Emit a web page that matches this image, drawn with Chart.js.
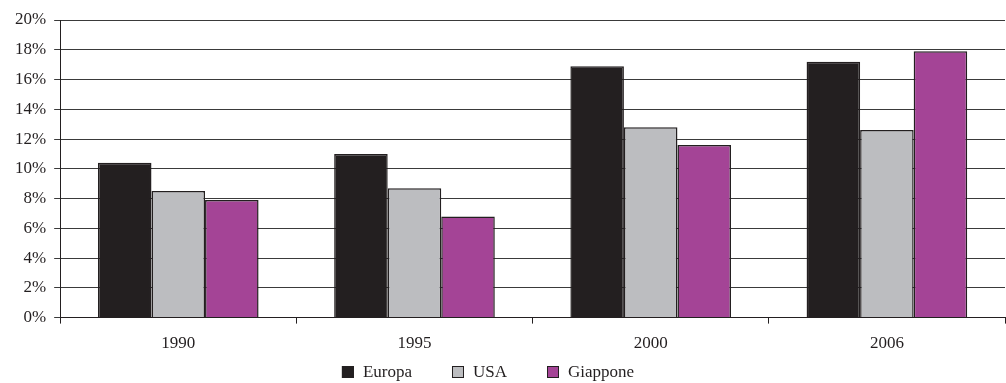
<!DOCTYPE html>
<html>
<head>
<meta charset="utf-8">
<script src="https://cdn.jsdelivr.net/npm/chart.js@4"></script>
<style>
  body { margin: 0; background: #fff; }
  #wrap { width: 1006px; height: 383px; }
</style>
</head>
<body>
<div id="wrap"><canvas id="barChart"></canvas></div>
<script>
const anni = ['1990', '1995', '2000', '2006'];
const europa = [10.4, 11.0, 16.9, 17.2];
const usa = [8.5, 8.7, 12.8, 12.6];
const giappone = [7.9, 6.8, 11.6, 17.9];
const yTicks = [0, 2, 4, 6, 8, 10, 12, 14, 16, 18, 20];

const serif = 'Liberation Serif, Times New Roman, serif';
const ink = '#231f20';

// legend drawn by hand so the items can sit wider apart than the built-in one allows
const bottomLegend = {
    id: 'bottomLegend',
    afterDraw: function (chart) {
        const ctx = chart.ctx;
        const box = 12, gapText = 9, gapItem = 40;
        const y = chart.height - 11;
        ctx.save();
        ctx.font = `17px ${serif}`;
        ctx.textBaseline = 'middle';
        const items = chart.data.datasets.map(ds => ({
            text: ds.label,
            fill: ds.backgroundColor,
            w: box + gapText + ctx.measureText(ds.label).width
        }));
        const total = items.reduce((s, it) => s + it.w, 0) + gapItem * (items.length - 1);
        let x = chart.width / 2 - 15 - total / 2;
        items.forEach(it => {
            ctx.fillStyle = it.fill;
            ctx.fillRect(x, y - box / 2, box, box);
            ctx.strokeStyle = ink;
            ctx.lineWidth = 1;
            ctx.strokeRect(x + 0.5, y - box / 2 + 0.5, box - 1, box - 1);
            ctx.fillStyle = ink;
            ctx.fillText(it.text, x + box + gapText, y + 1);
            x += it.w + gapItem;
        });
        ctx.restore();
    }
};

const ctx = document.getElementById('barChart').getContext('2d');
new Chart(ctx, {
    type: 'bar',
    data: {
        labels: anni,
        datasets: [
            { label: 'Europa', data: europa, backgroundColor: ink, borderColor: ink, borderWidth: 1.5 },
            { label: 'USA', data: usa, backgroundColor: '#bcbdc0', borderColor: ink, borderWidth: 1.5 },
            { label: 'Giappone', data: giappone, backgroundColor: '#a44496', borderColor: ink, borderWidth: 1.5 }
        ]
    },
    options: {
        responsive: true,
        maintainAspectRatio: false,
        animation: false,
        layout: { padding: { top: 20, right: 1, left: 7, bottom: 19 } },
        datasets: {
            bar: { categoryPercentage: 0.68, barPercentage: 1.0 }
        },
        scales: {
            x: {
                grid: {
                    drawOnChartArea: false,
                    drawTicks: true,
                    tickLength: 6,
                    color: ink
                },
                border: { display: true, color: ink, width: 1 },
                ticks: {
                    color: ink,
                    padding: 10,
                    font: { family: serif, size: 17 }
                }
            },
            y: {
                min: 0,
                max: 20,
                afterBuildTicks: function (axis) {
                    axis.ticks = yTicks.map(v => ({ value: v }));
                },
                grid: {
                    color: '#3a3a3a',
                    lineWidth: 1,
                    tickLength: 6
                },
                border: { display: true, color: ink, width: 1 },
                ticks: {
                    color: ink,
                    padding: 8,
                    font: { family: serif, size: 17 },
                    callback: v => v + '%'
                }
            }
        },
        plugins: {
            legend: { display: false },
            tooltip: { enabled: false }
        }
    },
    plugins: [bottomLegend]
});
</script>
</body>
</html>
